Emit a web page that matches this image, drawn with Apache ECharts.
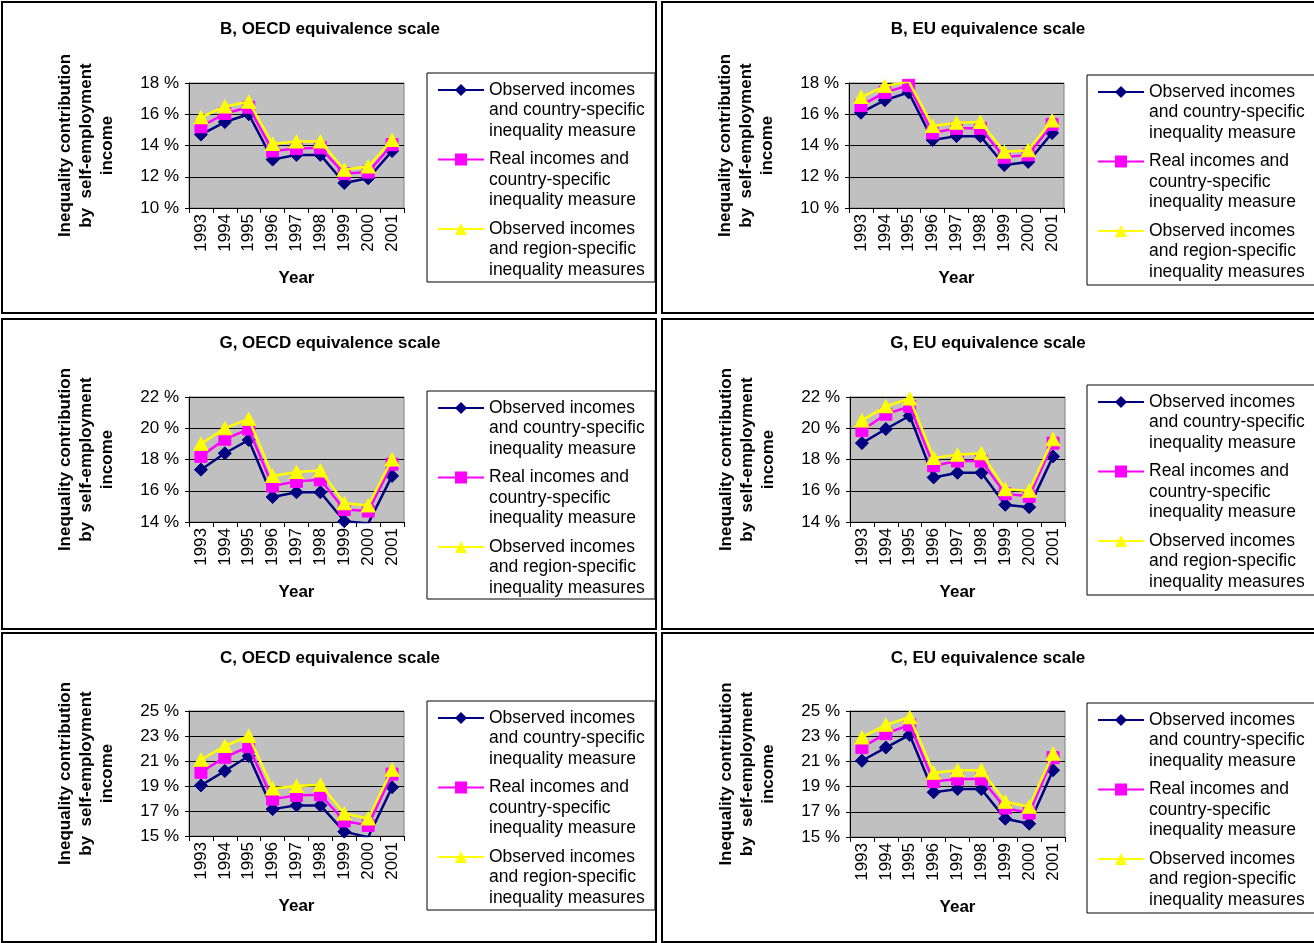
<!DOCTYPE html>
<html>
<head>
<meta charset="utf-8">
<script src="https://cdn.jsdelivr.net/npm/echarts@6/dist/echarts.min.js"></script>
<style>
  html, body { margin: 0; padding: 0; background: #fff; }
  #chart { width: 1314px; height: 943px; }
</style>
</head>
<body>
<div id="chart"></div>
<script>
// ---------- DATA ----------
const years = ['1993', '1994', '1995', '1996', '1997', '1998', '1999', '2000', '2001'];

const seriesNames = [
  'Observed incomes\nand country-specific\ninequality measure',
  'Real incomes and\ncountry-specific\ninequality measure',
  'Observed incomes\nand region-specific\ninequality measures'
];

const panelTitles = [
  'B, OECD equivalence scale', 'B, EU equivalence scale',
  'G, OECD equivalence scale', 'G, EU equivalence scale',
  'C, OECD equivalence scale', 'C, EU equivalence scale'
];

const yAxisTitle = 'Inequality contribution\nby  self-employment\nincome';
const xAxisTitle = 'Year';

// y-axis ranges [min, max, step] per panel
const yRanges = [
  [10, 18, 2], [10, 18, 2],
  [14, 22, 2], [14, 22, 2],
  [15, 25, 2], [15, 25, 2]
];

// B, OECD
const bOecdObserved = [14.7, 15.5, 16.0, 13.1, 13.4, 13.4, 11.6, 11.9, 13.65];
const bOecdReal     = [15.2, 16.05, 16.45, 13.65, 13.8, 13.85, 12.2, 12.3, 14.05];
const bOecdRegion   = [15.8, 16.5, 16.8, 14.1, 14.25, 14.25, 12.45, 12.65, 14.35];
// B, EU
const bEuObserved = [16.1, 16.9, 17.4, 14.35, 14.6, 14.6, 12.75, 12.95, 14.8];
const bEuReal     = [16.55, 17.4, 17.85, 14.8, 15.1, 15.1, 13.25, 13.4, 15.35];
const bEuRegion   = [17.1, 17.8, 18.1, 15.25, 15.45, 15.5, 13.6, 13.7, 15.6];
// G, OECD
const gOecdObserved = [17.35, 18.4, 19.25, 15.6, 15.9, 15.9, 14.05, 13.9, 16.95];
const gOecdReal     = [18.2, 19.3, 19.95, 16.3, 16.6, 16.7, 14.8, 14.7, 17.7];
const gOecdRegion   = [19.0, 20.0, 20.6, 16.95, 17.2, 17.3, 15.2, 15.05, 18.0];
// G, EU
const gEuObserved = [19.05, 19.95, 20.8, 16.85, 17.15, 17.15, 15.1, 14.95, 18.2];
const gEuReal     = [19.85, 20.9, 21.4, 17.6, 17.9, 17.9, 15.8, 15.65, 19.05];
const gEuRegion   = [20.5, 21.4, 21.9, 18.1, 18.3, 18.4, 16.1, 16.0, 19.3];
// C, OECD
const cOecdObserved = [19.05, 20.2, 21.4, 17.15, 17.45, 17.45, 15.35, 14.9, 18.9];
const cOecdReal     = [20.1, 21.3, 22.15, 17.95, 18.25, 18.3, 16.2, 15.85, 19.95];
const cOecdRegion   = [21.1, 22.2, 23.0, 18.8, 19.0, 19.1, 16.8, 16.4, 20.3];
// C, EU
const cEuObserved = [21.05, 22.1, 23.1, 18.55, 18.8, 18.8, 16.45, 16.05, 20.3];
const cEuReal     = [22.1, 23.2, 23.9, 19.4, 19.6, 19.6, 17.3, 16.9, 21.3];
const cEuRegion   = [22.9, 23.9, 24.5, 20.1, 20.3, 20.3, 17.8, 17.4, 21.6];

const panelData = [
  [bOecdObserved, bOecdReal, bOecdRegion],
  [bEuObserved, bEuReal, bEuRegion],
  [gOecdObserved, gOecdReal, gOecdRegion],
  [gEuObserved, gEuReal, gEuRegion],
  [cOecdObserved, cOecdReal, cOecdRegion],
  [cEuObserved, cEuReal, cEuRegion]
];

// ---------- LAYOUT / STYLE ----------
const FONT = '"Liberation Sans", Arial, sans-serif';
const layout = [
  { grid: [189, 83, 215, 125], titleX: 330, titleY: 21, legX: 437, legFirst: 90,  box: [427, 73, 228, 209],  panel: [2, 2, 654, 311] },
  { grid: [849, 83, 215, 125], titleX: 988, titleY: 21, legX: 1097, legFirst: 92, box: [1087, 75, 240, 210], panel: [662, 2, 660, 311] },
  { grid: [189, 397, 215, 125], titleX: 330, titleY: 335, legX: 437, legFirst: 408, box: [427, 391, 228, 208], panel: [2, 319, 654, 310] },
  { grid: [850, 397, 215, 125], titleX: 988, titleY: 335, legX: 1097, legFirst: 402, box: [1087, 385, 240, 210], panel: [662, 319, 660, 310] },
  { grid: [189, 711, 215, 125], titleX: 330, titleY: 650, legX: 437, legFirst: 718, box: [427, 701, 228, 209], panel: [2, 633, 654, 309] },
  { grid: [850, 711, 215, 126], titleX: 988, titleY: 650, legX: 1097, legFirst: 720, box: [1087, 703, 240, 210], panel: [662, 633, 660, 309] }
];

const seriesStyles = [
  { color: '#000080', symbol: 'diamond', size: [13, 13] },
  { color: '#FF00FF', symbol: 'rect', size: [12, 12] },
  { color: '#FFFF00', symbol: 'triangle', size: [14, 13] }
];

const LINE_H = 20.5;
const ITEM_STEP = 69.5;
const LEG_OFFSET = 51.25; // distance from legend top to first text line centre

const grids = [], xAxes = [], yAxes = [], series = [], titles = [], legends = [], graphics = [];

layout.forEach((L, i) => {
  graphics.push({
    type: 'rect', silent: true, z: -10,
    shape: { x: L.panel[0], y: L.panel[1], width: L.panel[2], height: L.panel[3] },
    style: { fill: '#fff', stroke: '#000', lineWidth: 2 }
  });
  graphics.push({
    type: 'rect', silent: true, z: -9,
    shape: { x: L.box[0], y: L.box[1], width: L.box[2], height: L.box[3] },
    style: { fill: '#fff', stroke: '#000', lineWidth: 1 }
  });

  grids.push({
    left: L.grid[0], top: L.grid[1], width: L.grid[2], height: L.grid[3],
    show: true, backgroundColor: '#C0C0C0', borderColor: '#808080', borderWidth: 1,
    containLabel: false, outerBoundsMode: 'none'
  });

  xAxes.push({
    type: 'category', gridIndex: i, data: years, boundaryGap: true,
    axisLine: { show: true, lineStyle: { color: '#000', width: 1 } },
    axisTick: { show: true, length: 5, alignWithLabel: false, lineStyle: { color: '#000' } },
    axisLabel: { rotate: 90, margin: 6, interval: 0, fontSize: 17, color: '#000', fontFamily: FONT },
    splitLine: { show: false },
    name: xAxisTitle, nameLocation: 'middle', nameGap: 62, nameMoveOverlap: false,
    nameTextStyle: { fontSize: 17, fontWeight: 'bold', color: '#000', fontFamily: FONT }
  });

  const r = yRanges[i];
  yAxes.push({
    type: 'value', gridIndex: i, min: r[0], max: r[1], interval: r[2],
    axisLine: { show: true, lineStyle: { color: '#000', width: 1 } },
    axisTick: { show: true, length: 4, lineStyle: { color: '#000' } },
    axisLabel: { formatter: v => v + ' %', fontSize: 17, color: '#000', margin: 10, fontFamily: FONT },
    splitLine: { show: true, lineStyle: { color: '#000', width: 1 } },
    name: yAxisTitle, nameLocation: 'middle', nameRotate: 90, nameGap: 71, nameMoveOverlap: false,
    nameTextStyle: { fontSize: 17, fontWeight: 'bold', color: '#000', lineHeight: 21, fontFamily: FONT }
  });

  panelData[i].forEach((vals, k) => {
    const s = seriesStyles[k];
    series.push({
      type: 'line', name: seriesNames[k], xAxisIndex: i, yAxisIndex: i,
      data: vals, symbol: s.symbol, symbolSize: s.size, showSymbol: true,
      itemStyle: { color: s.color, borderColor: s.color },
      lineStyle: { color: s.color, width: 2.5 },
      clip: true, animation: false, z: 2 + k
    });

    legends.push({
      orient: 'vertical', left: L.legX, top: L.legFirst + k * ITEM_STEP - LEG_OFFSET, padding: 0,
      itemWidth: 46, itemHeight: 15, selectedMode: false,
      data: [seriesNames[k]],
      formatter: '\n\n{name}',
      textStyle: { fontSize: 17.5, lineHeight: LINE_H, color: '#000', fontFamily: FONT }
    });
  });

  titles.push({
    text: panelTitles[i], left: L.titleX, top: L.titleY, textAlign: 'center', padding: 0,
    textStyle: { fontSize: 17, fontWeight: 'bold', color: '#000', fontFamily: FONT }
  });
});

const chart = echarts.init(document.getElementById('chart'), null, { renderer: 'canvas' });
chart.setOption({
  animation: false,
  backgroundColor: '#fff',
  textStyle: { fontFamily: FONT },
  title: titles,
  legend: legends,
  grid: grids,
  xAxis: xAxes,
  yAxis: yAxes,
  series: series,
  graphic: graphics
});
</script>
</body>
</html>
